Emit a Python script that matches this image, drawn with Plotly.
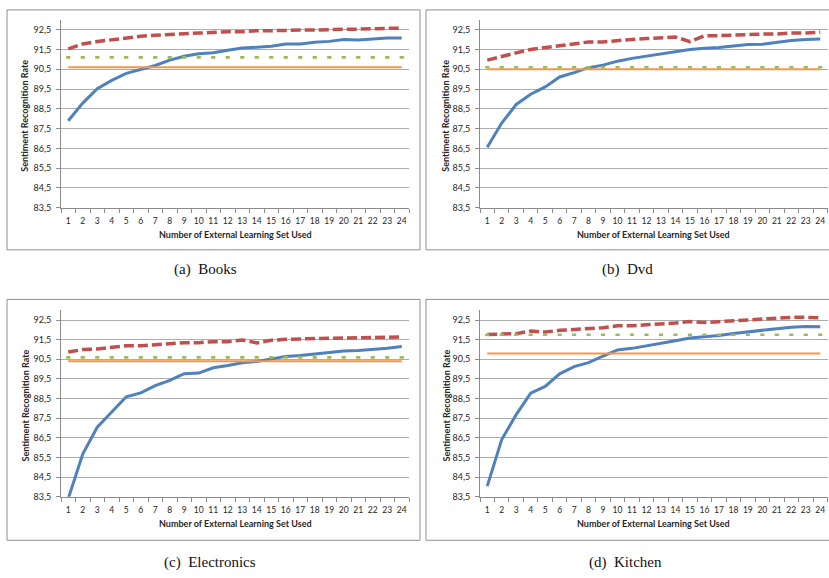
import plotly.graph_objects as go

# ---------------- data ----------------
categories = [str(i) for i in range(1, 25)]
y_tick_vals = [83.5, 84.5, 85.5, 86.5, 87.5, 88.5, 89.5, 90.5, 91.5, 92.5]
y_tick_text = ["83,5", "84,5", "85,5", "86,5", "87,5", "88,5", "89,5", "90,5", "91,5", "92,5"]

books_blue = [87.90, 88.79, 89.52, 89.94, 90.29, 90.49, 90.69, 90.96, 91.16, 91.28, 91.33, 91.46,
              91.58, 91.61, 91.66, 91.78, 91.78, 91.86, 91.91, 92.00, 91.98, 92.03, 92.08, 92.08]
books_red = [91.53, 91.78, 91.90, 92.00, 92.08, 92.17, 92.22, 92.28, 92.30, 92.33, 92.38, 92.40,
             92.40, 92.45, 92.45, 92.48, 92.48, 92.48, 92.52, 92.52, 92.53, 92.57, 92.57, 92.57]
books_green = 91.1
books_orange = 90.6

dvd_blue = [86.56, 87.78, 88.72, 89.24, 89.61, 90.11, 90.33, 90.58, 90.71, 90.91, 91.05, 91.16,
            91.30, 91.38, 91.50, 91.56, 91.60, 91.68, 91.75, 91.76, 91.86, 91.95, 92.00, 92.03]
dvd_red = [90.96, 91.16, 91.33, 91.50, 91.60, 91.70, 91.76, 91.88, 91.88, 91.96, 92.01, 92.05,
           92.08, 92.13, 91.90, 92.20, 92.20, 92.23, 92.28, 92.28, 92.28, 92.33, 92.33, 92.38]
dvd_green = 90.6
dvd_orange = 90.5

elec_blue = [83.40, 85.67, 87.04, 87.80, 88.59, 88.79, 89.16, 89.43, 89.77, 89.80, 90.07, 90.19,
             90.33, 90.39, 90.53, 90.65, 90.70, 90.78, 90.83, 90.92, 90.95, 91.00, 91.07, 91.15]
elec_red = [90.87, 91.00, 91.03, 91.12, 91.19, 91.19, 91.24, 91.30, 91.35, 91.35, 91.40, 91.40,
            91.49, 91.34, 91.47, 91.52, 91.52, 91.56, 91.57, 91.59, 91.59, 91.64, 91.64, 91.64]
elec_green = 90.6
elec_orange = 90.4

kitchen_blue = [84.04, 86.41, 87.68, 88.78, 89.12, 89.76, 90.13, 90.33, 90.67, 90.98, 91.06, 91.18,
                91.32, 91.45, 91.59, 91.65, 91.72, 91.82, 91.89, 91.98, 92.06, 92.14, 92.18, 92.16]
kitchen_red = [91.77, 91.79, 91.81, 91.94, 91.89, 91.98, 92.01, 92.06, 92.11, 92.21, 92.21, 92.26,
               92.30, 92.35, 92.43, 92.38, 92.42, 92.47, 92.50, 92.55, 92.58, 92.64, 92.64, 92.62]
kitchen_green = 91.75
kitchen_orange = 90.8

captions = ["(a)  Books", "(b)  Dvd", "(c)  Electronics", "(d)  Kitchen"]
x_title = "Number of External Learning Set Used"
y_title = "Sentiment Recognition Rate"

# ---------------- layout helpers ----------------
W, H = 829, 578
def px(x):
    return x / W
def py(y):
    return 1 - y / H

BLUE = "#4F81BD"
RED = "#C0504D"
GREEN = "#9BBB59"
ORANGE = "#F79646"
GRID = "#ADADAD"
AXIS = "#8C8C8C"
TXT = "#262626"
FONT = "Lato, 'Liberation Sans', sans-serif"

panels = [
    dict(blue=books_blue, red=books_red, green=books_green, orange=books_orange,
         area=(61, 409, 20, 209.5), border=(7, 420, 10, 252), cap=(205, 272), ytx=25),
    dict(blue=dvd_blue, red=dvd_red, green=dvd_green, orange=dvd_orange,
         area=(480, 827.5, 20, 209.5), border=(426, 840, 10, 252), cap=(627, 272), ytx=446),
    dict(blue=elec_blue, red=elec_red, green=elec_green, orange=elec_orange,
         area=(61, 409, 313, 501), border=(7, 420, 302, 545), cap=(210, 567), ytx=25),
    dict(blue=kitchen_blue, red=kitchen_red, green=kitchen_green, orange=kitchen_orange,
         area=(480, 827.5, 313, 501), border=(426, 840, 302, 545), cap=(625, 567), ytx=446),
]

fig = go.Figure()
annotations = []
shapes = []

for i, p in enumerate(panels):
    n = "" if i == 0 else str(i + 1)
    xa, ya = "x" + n, "y" + n
    x0, x1, yt, yb = p["area"]

    fig.add_trace(go.Scatter(x=categories, y=p["blue"], mode="lines", xaxis=xa, yaxis=ya,
                             line=dict(color=BLUE, width=3), showlegend=False))
    fig.add_trace(go.Scatter(x=categories, y=p["red"], mode="lines", xaxis=xa, yaxis=ya,
                             line=dict(color=RED, width=3.5, dash="10px,4px"), showlegend=False))
    fig.add_trace(go.Scatter(x=categories, y=[p["orange"]] * len(categories), mode="lines",
                             xaxis=xa, yaxis=ya, line=dict(color=ORANGE, width=2),
                             showlegend=False))
    fig.add_trace(go.Scatter(x=categories, y=[p["green"]] * len(categories), mode="markers",
                             xaxis=xa, yaxis=ya,
                             marker=dict(symbol="line-ew", size=3, color=GREEN,
                                         line=dict(color=GREEN, width=2.6)),
                             showlegend=False))

    fig.layout["xaxis" + n] = dict(
        domain=[px(x0), px(x1)], anchor=ya, type="category", range=[-0.5, 23.5],
        tickson="boundaries", ticks="outside", ticklen=4, tickcolor=AXIS, tickwidth=1,
        tickangle=0, ticklabelstandoff=5,
        showline=True, linecolor=AXIS, linewidth=1, showgrid=False, zeroline=False,
        tickfont=dict(family=FONT, size=8.5, color=TXT), fixedrange=True)
    fig.layout["yaxis" + n] = dict(
        domain=[py(yb), py(yt)], anchor=xa, range=[83.5, 93.0],
        tickmode="array", tickvals=y_tick_vals, ticktext=y_tick_text,
        ticks="outside", ticklen=4, tickcolor=AXIS, tickwidth=1, ticklabelstandoff=3,
        showline=True, linecolor=AXIS, linewidth=1,
        showgrid=True, gridcolor=GRID, gridwidth=1.3, zeroline=False,
        tickfont=dict(family=FONT, size=9, color=TXT), fixedrange=True)

    bx0, bx1, by0, by1 = p["border"]
    shapes.append(dict(type="rect", xref="paper", yref="paper",
                       x0=px(bx0), x1=px(bx1), y0=py(by1), y1=py(by0),
                       line=dict(color="#8F8F8F", width=1), fillcolor="rgba(0,0,0,0)",
                       layer="below"))

    annotations.append(dict(text="<b>" + x_title + "</b>", xref="paper", yref="paper",
                            x=px((x0 + x1) / 2), y=py(yb + 27), showarrow=False,
                            xanchor="center", yanchor="middle",
                            font=dict(family=FONT, size=9, color=TXT)))
    annotations.append(dict(text="<b>" + y_title + "</b>", xref="paper", yref="paper",
                            x=px(p["ytx"]), y=py((yt + yb) / 2 + 2), showarrow=False,
                            textangle=-90, xanchor="center", yanchor="middle",
                            font=dict(family=FONT, size=9, color=TXT)))
    cx, cy = p["cap"]
    annotations.append(dict(text=captions[i], xref="paper", yref="paper",
                            x=px(cx), y=py(cy), showarrow=False,
                            xanchor="center", yanchor="middle",
                            font=dict(family="'Liberation Serif', 'Times New Roman', serif",
                                      size=15, color="#111111")))

fig.update_layout(width=W, height=H, margin=dict(l=0, r=0, t=0, b=0),
                  paper_bgcolor="white", plot_bgcolor="white",
                  annotations=annotations, shapes=shapes, showlegend=False)

fig.write_html("out.html", config={"displayModeBar": False},
               post_script="document.body.style.margin='0';document.body.style.overflow='hidden';")
